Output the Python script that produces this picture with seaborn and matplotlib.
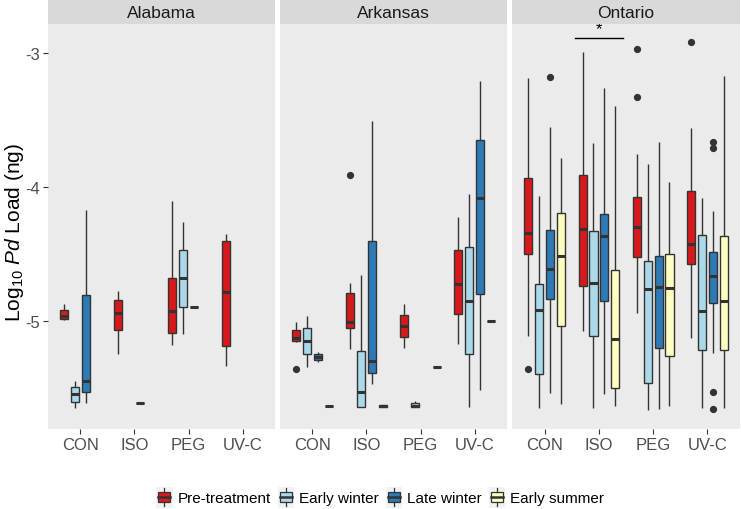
import numpy as np
import pandas as pd
import matplotlib
matplotlib.use("Agg")
import matplotlib.pyplot as plt
from matplotlib.patches import Rectangle
from matplotlib.lines import Line2D
from matplotlib.legend_handler import HandlerBase
import seaborn as sns

# box stats: (treatment, season, whisker low, q1, median, q3, whisker high)
treatments = ["CON", "ISO", "PEG", "UV-C"]
seasons = ["Pre-treatment", "Early winter", "Late winter", "Early summer"]
colors = ["#d7191c", "#abd9e9", "#2c7bb6", "#ffffbf"]
regions = ["Alabama", "Arkansas", "Ontario"]

alabama = [
    ("CON", "Pre-treatment", -4.993, -4.985, -4.965, -4.918, -4.873),
    ("CON", "Early winter", -5.652, -5.602, -5.545, -5.495, -5.445),
    ("CON", "Late winter", -5.614, -5.532, -5.448, -4.806, -4.169),
    ("ISO", "Pre-treatment", -5.244, -5.067, -4.938, -4.846, -4.776),
    ("ISO", "Late winter", -5.612, -5.612, -5.612, -5.612, -5.612),
    ("PEG", "Pre-treatment", -5.177, -5.087, -4.923, -4.677, -4.104),
    ("PEG", "Early winter", -5.097, -4.893, -4.682, -4.473, -4.264),
    ("PEG", "Late winter", -4.898, -4.898, -4.898, -4.898, -4.898),
    ("UV-C", "Pre-treatment", -5.333, -5.189, -4.781, -4.403, -4.351),
]

arkansas = [
    ("CON", "Pre-treatment", -5.158, -5.152, -5.129, -5.067, -5.005),
    ("CON", "Early winter", -5.341, -5.249, -5.152, -5.055, -4.960),
    ("CON", "Late winter", -5.308, -5.291, -5.269, -5.249, -5.229),
    ("CON", "Early summer", -5.634, -5.634, -5.634, -5.634, -5.634),
    ("ISO", "Pre-treatment", -5.209, -5.055, -5.010, -4.791, -4.719),
    ("ISO", "Early winter", -5.644, -5.644, -5.530, -5.226, -4.654),
    ("ISO", "Late winter", -5.473, -5.388, -5.299, -4.403, -3.505),
    ("ISO", "Early summer", -5.644, -5.644, -5.632, -5.624, -5.624),
    ("PEG", "Pre-treatment", -5.199, -5.119, -5.037, -4.955, -4.873),
    ("PEG", "Early winter", -5.644, -5.644, -5.632, -5.614, -5.594),
    ("PEG", "Early summer", -5.343, -5.343, -5.343, -5.343, -5.343),
    ("UV-C", "Pre-treatment", -5.172, -4.948, -4.721, -4.473, -4.226),
    ("UV-C", "Early winter", -5.644, -5.249, -4.848, -4.450, -4.055),
    ("UV-C", "Late winter", -5.512, -4.799, -4.082, -3.647, -3.211),
    ("UV-C", "Early summer", -5.000, -5.000, -5.000, -5.000, -5.000),
]

ontario = [
    ("CON", "Pre-treatment", -5.109, -4.498, -4.343, -3.933, -3.187),
    ("CON", "Early winter", -5.652, -5.396, -4.915, -4.726, -4.067),
    ("CON", "Late winter", -5.537, -4.838, -4.609, -4.321, -3.555),
    ("CON", "Early summer", -5.619, -5.040, -4.515, -4.192, -3.786),
    ("ISO", "Pre-treatment", -5.077, -4.741, -4.313, -3.913, -2.995),
    ("ISO", "Early winter", -5.647, -5.114, -4.716, -4.328, -3.669),
    ("ISO", "Late winter", -5.545, -4.851, -4.366, -4.201, -3.264),
    ("ISO", "Early summer", -5.632, -5.502, -5.134, -4.622, -3.396),
    ("PEG", "Pre-treatment", -4.940, -4.520, -4.299, -4.077, -3.756),
    ("PEG", "Early winter", -5.664, -5.463, -4.761, -4.552, -3.828),
    ("PEG", "Late winter", -5.657, -5.201, -4.749, -4.512, -3.662),
    ("PEG", "Early summer", -5.632, -5.264, -4.756, -4.500, -3.963),
    ("UV-C", "Pre-treatment", -5.129, -4.577, -4.423, -4.027, -3.560),
    ("UV-C", "Early winter", -5.647, -5.219, -4.923, -4.356, -4.085),
    ("UV-C", "Late winter", -5.241, -4.863, -4.664, -4.483, -4.182),
    ("UV-C", "Early summer", -5.652, -5.216, -4.851, -4.368, -3.174),
]

outliers = {
    ("Arkansas", "CON", "Pre-treatment"): [-5.358],
    ("Arkansas", "ISO", "Pre-treatment"): [-3.908],
    ("Ontario", "CON", "Pre-treatment"): [-5.36],
    ("Ontario", "CON", "Late winter"): [-3.177],
    ("Ontario", "PEG", "Pre-treatment"): [-3.326, -2.970],
    ("Ontario", "UV-C", "Pre-treatment"): [-2.920],
    ("Ontario", "UV-C", "Late winter"): [-3.664, -3.706, -5.532, -5.657],
}

# significance bar over Ontario ISO
sig_x = [0.56, 1.44]
sig_y = -2.888
sig_label = "*"


def expand(lo, q1, med, q3, hi, fliers):
    # sample whose type-7 quartiles and whiskers equal the read stats
    low = sorted(f for f in fliers if f < q1)
    high = sorted(f for f in fliers if f > q3)
    m = max(len(low), len(high)) + 1
    vals = low + [lo] * (m - len(low))
    vals += [q1] * m + [med] * m + [q3]
    vals += [hi] * (m - len(high)) + high
    return vals


def region_frame(name, rows):
    recs = []
    for tr, se, lo, q1, med, q3, hi in rows:
        fl = outliers.get((name, tr, se), [])
        for v in expand(lo, q1, med, q3, hi, fl):
            recs.append({"treatment": tr, "season": se, "value": v})
    return pd.DataFrame(recs)


class BoxKey(HandlerBase):
    def create_artists(self, legend, orig_handle, xdescent, ydescent,
                       width, height, fontsize, trans):
        x0, y0 = -xdescent, -ydescent - 3
        h = height + 6
        bg = Rectangle((x0, y0), width, h, facecolor="#F2F2F2",
                       edgecolor="none", transform=trans)
        bw = width * 0.72
        bx = x0 + (width - bw) / 2
        box = Rectangle((bx, y0 + h * 0.25), bw, h * 0.5,
                        facecolor=orig_handle.get_facecolor(),
                        edgecolor="#333333", lw=0.9, transform=trans)
        cx = x0 + width / 2
        w1 = Line2D([cx, cx], [y0 + h * 0.05, y0 + h * 0.25], color="#333333", lw=0.9, transform=trans)
        w2 = Line2D([cx, cx], [y0 + h * 0.75, y0 + h * 0.95], color="#333333", lw=0.9, transform=trans)
        md = Line2D([bx, bx + bw], [y0 + h * 0.5, y0 + h * 0.5], color="#333333", lw=1.8, transform=trans)
        return [bg, box, w1, w2, md]


plt.rcParams["font.family"] = ["Liberation Sans", "DejaVu Sans"]
plt.rcParams["axes.unicode_minus"] = False
plt.rcParams["mathtext.fontset"] = "custom"
plt.rcParams["mathtext.rm"] = "Liberation Sans"
plt.rcParams["mathtext.it"] = "Liberation Sans:italic"

W, H = 741, 510
fig = plt.figure(figsize=(W / 100, H / 100), dpi=100)

panel_left = [48, 280, 512]
panel_w = [227, 227, 228]
bottom, top = 80, 485

data = {"Alabama": alabama, "Arkansas": arkansas, "Ontario": ontario}
axes = []
for i, reg in enumerate(regions):
    ax = fig.add_axes([panel_left[i] / W, bottom / H, panel_w[i] / W, (top - bottom) / H])
    ax.set_facecolor("#EBEBEB")
    df = region_frame(reg, data[reg])
    sns.boxplot(data=df, x="treatment", y="value", hue="season",
                order=treatments, hue_order=seasons, palette=colors, saturation=1,
                width=0.8, gap=0.25, linecolor="#333333", linewidth=1.0,
                showcaps=False, legend=False, ax=ax,
                medianprops=dict(linewidth=2.2, color="#333333"),
                flierprops=dict(marker="o", markersize=4.2,
                                markerfacecolor="#333333", markeredgecolor="#333333"))
    ax.set_xlim(-0.6, 3.6)
    ax.set_ylim(-5.806, -2.784)
    ax.set_xlabel("")
    ax.set_ylabel("")
    ax.grid(False)
    for s in ax.spines.values():
        s.set_visible(False)
    ax.set_yticks([-5, -4, -3])
    ax.tick_params(axis="both", length=3.8, width=0.8, color="#333333",
                   labelcolor="#4D4D4D", labelsize=12, pad=2)
    if i > 0:
        ax.tick_params(axis="y", left=False, labelleft=False)
    else:
        ax.set_yticklabels(["-5", "-4", "-3"])
    # facet strip
    sax = fig.add_axes([panel_left[i] / W, top / H, panel_w[i] / W, (H - top) / H])
    sax.set_facecolor("#D9D9D9")
    sax.set_xticks([])
    sax.set_yticks([])
    for s in sax.spines.values():
        s.set_visible(False)
    sax.text(0.5, 0.45, reg, ha="center", va="center", fontsize=12.5, color="#1A1A1A",
             transform=sax.transAxes)
    axes.append(ax)

# significance marker in Ontario
axes[2].plot(sig_x, [sig_y, sig_y], color="black", lw=1.0)
axes[2].text(np.mean(sig_x), sig_y + 0.01, sig_label, ha="center", va="bottom",
             fontsize=12, color="black")

fig.text(15 / W, 1 - 233 / H, r"Log$_{10}$ $\it{Pd}$ Load (ng)",
         rotation=90, ha="center", va="center", fontsize=15, color="black")

handles = [Rectangle((0, 0), 1, 1, facecolor=c) for c in colors]
fig.legend(handles, seasons, loc="center", bbox_to_anchor=(380 / W, 1 - 499 / H),
           ncol=4, frameon=False, fontsize=11, handler_map={Rectangle: BoxKey()},
           handlelength=1.1, handleheight=0.9, handletextpad=0.3, columnspacing=0.45,
           borderpad=0.2)

fig.savefig("out.png", dpi=100)
